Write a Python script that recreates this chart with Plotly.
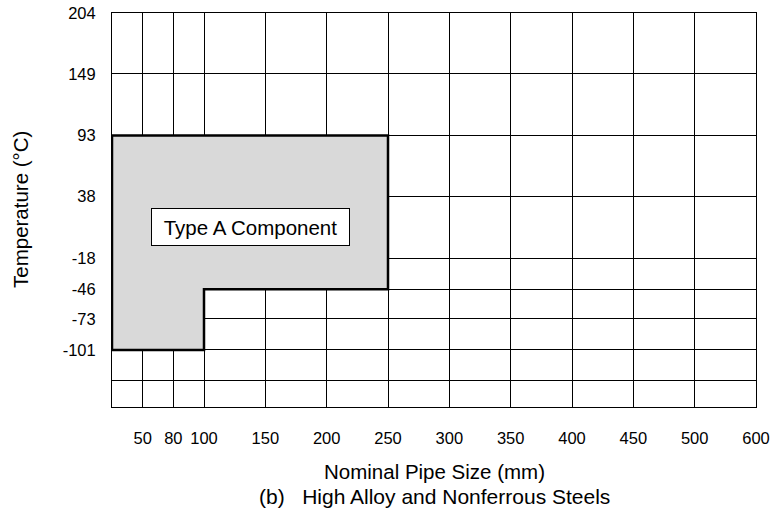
import plotly.graph_objects as go

# X axis: nominal pipe size; axis is linear in NPS (inches) positions
x_tick_pos = [2, 3, 4, 6, 8, 10, 12, 14, 16, 18, 20, 22]
x_tick_mm = [50, 80, 100, 150, 200, 250, 300, 350, 400, 450, 500, 600]
x_range = [1, 22]

# Y axis: temperature (°C)
y_tick_vals = [204, 149, 93, 38, -18, -46, -73, -101, -129]
y_tick_text = ["204", "149", "93", "38", "-18", "-46", "-73", "-101", ""]
y_range = [-152.7, 204]

# Type A component region (NPS position, °C)
region_x = [1, 4, 4, 10, 10, 1, 1]
region_y = [-101, -101, -46, -46, 93, 93, -101]

FONT = "Liberation Sans, Arial, sans-serif"

fig = go.Figure()
fig.add_trace(go.Scatter(
    x=region_x, y=region_y, mode="lines", fill="toself",
    fillcolor="#d9d9d9", line=dict(color="black", width=2.5),
    cliponaxis=False, hoverinfo="skip", showlegend=False,
))

fig.add_annotation(
    x=5.51, y=10, xref="x", yref="y", text="Type A Component",
    showarrow=False, font=dict(family=FONT, size=20.5, color="black"),
    bgcolor="white", bordercolor="black", borderwidth=1,
    width=189, height=28, borderpad=4,
)

fig.add_annotation(
    x=0.5, y=0, xref="paper", yref="paper", yshift=-64,
    text="Nominal Pipe Size (mm)", showarrow=False,
    font=dict(family=FONT, size=20.5, color="black"),
    xanchor="center", yanchor="middle",
)
fig.add_annotation(
    x=0.5, y=0, xref="paper", yref="paper", yshift=-89,
    text="(b)&nbsp;&nbsp;&nbsp;High Alloy and Nonferrous Steels", showarrow=False,
    font=dict(family=FONT, size=21, color="black"),
    xanchor="center", yanchor="middle",
)
fig.add_annotation(
    x=0, y=0.5, xref="paper", yref="paper", xshift=-92,
    text="Temperature (°C)", showarrow=False, textangle=-90,
    font=dict(family=FONT, size=20.5, color="black"),
    xanchor="center", yanchor="middle",
)

fig.update_xaxes(
    range=x_range, tickvals=x_tick_pos, ticktext=[str(v) for v in x_tick_mm],
    showgrid=True, gridcolor="black", gridwidth=1, zeroline=False,
    showline=True, mirror=True, linecolor="black", linewidth=1,
    ticks="", ticklabelstandoff=16, automargin=False, ticklabeloverflow="allow",
    tickfont=dict(family=FONT, size=16.5, color="black"),
)
fig.update_yaxes(
    range=y_range, tickvals=y_tick_vals, ticktext=y_tick_text,
    showgrid=True, gridcolor="black", gridwidth=1, zeroline=False,
    showline=True, mirror=True, linecolor="black", linewidth=1,
    ticks="", ticklabelstandoff=12, automargin=False, ticklabeloverflow="allow",
    tickfont=dict(family=FONT, size=16.5, color="black"),
)

fig.update_layout(
    width=774, height=518,
    margin=dict(l=112, r=18, t=13, b=111),
    paper_bgcolor="white", plot_bgcolor="white",
    font=dict(family=FONT, color="black"),
)

fig.write_html(
    "out.html",
    config={"displayModeBar": False},
    post_script="document.body.style.margin='0';document.body.style.overflow='hidden';",
)
